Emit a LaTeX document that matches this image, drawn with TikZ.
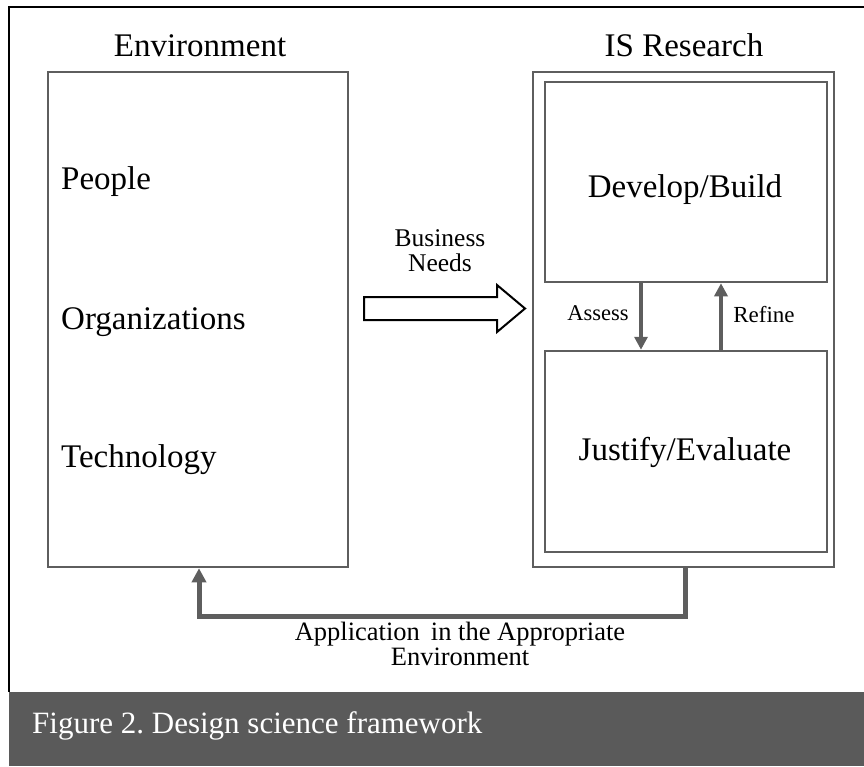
\documentclass[tikz,border=0pt]{standalone}
\usepackage{fontspec}
\setmainfont{Liberation Serif}
\usetikzlibrary{arrows.meta,calc}
\definecolor{linegray}{HTML}{5E5E5E}
\definecolor{bandgray}{HTML}{5A5A5A}
\frenchspacing
\begin{document}
\begin{tikzpicture}[x=1pt,y=-1pt,
  box/.style={draw=linegray, line width=2.5pt, inner sep=0pt},
  lbl/.style={inner sep=0pt, anchor=base},
  big/.style={font=\fontsize{33}{36}\selectfont},
  flowarr/.style={draw=linegray, line width=4pt, -{Triangle[width=13pt,length=13pt]}},
  backarr/.style={draw=linegray, line width=5pt, -{Triangle[width=14pt,length=14pt]}}]
\useasboundingbox (0,0) rectangle (864,766);
% frame and caption band
\fill[bandgray] (9,692) rectangle (864,766);
\draw[black, line width=2.5pt] (864,7) -- (9,7) -- (9,692);
\node[lbl, anchor=base west, text=white, font=\fontsize{31}{34}\selectfont] (cap) at (32,733) {Figure 2. Design science framework};
% titles
\node[lbl, big] (envt) at (200,56) {Environment};
\node[lbl, big] (ist) at (684,56) {IS Research};
% environment box
\node[box, minimum width=300pt, minimum height=495pt] (env) at (198,319.5) {};
\node[lbl, big, anchor=base west] (people) at (61,189) {People};
\node[lbl, big, anchor=base west] (org) at (61,329) {Organizations};
\node[lbl, big, anchor=base west] (tech) at (61,467) {Technology};
% IS research boxes
\node[box, minimum width=301pt, minimum height=495pt] (is) at (683.5,319.5) {};
\node[box, minimum width=282pt, minimum height=200pt] (dev) at (686,182) {};
\node[box, minimum width=282pt, minimum height=201pt] (jus) at (686,451.5) {};
\node[lbl, big] (devt) at (685,197) {Develop/Build};
\node[lbl, big] (just) at (685,460) {Justify/Evaluate};
% assess / refine
\coordinate (ax) at (641,0);
\coordinate (rx) at (721,0);
\draw[flowarr] (dev.south -| ax) -- (jus.north -| ax);
\draw[flowarr] (jus.north -| rx) -- (dev.south -| rx);
\node[lbl, font=\fontsize{22.5}{25}\selectfont] (assess) at (598,320) {Assess};
\node[lbl, font=\fontsize{23}{25}\selectfont] (refine) at (764,322) {Refine};
% business needs
\node[inner sep=0pt, anchor=north, align=center, font=\fontsize{25.5}{24}\selectfont] (bn) at (440,229) {Business\\[1pt]Needs};
\draw[black, line width=2pt, fill=white, line join=miter]
  (364,297) -- (497,297) -- (497,285) -- (525,308.5) -- (497,332) -- (497,320) -- (364,320) -- cycle;
% application connector
\coordinate (ox) at (685,0);
\coordinate (inx) at (199,0);
\draw[backarr] (is.south -| ox) -- ++(0,48) -| (env.south -| inx);
\node[inner sep=0pt, anchor=north, align=center, font=\fontsize{26.5}{23}\selectfont] (app) at (460,622) {Application\, in the Appropriate\\[1pt]Environment};
\end{tikzpicture}
\end{document}
